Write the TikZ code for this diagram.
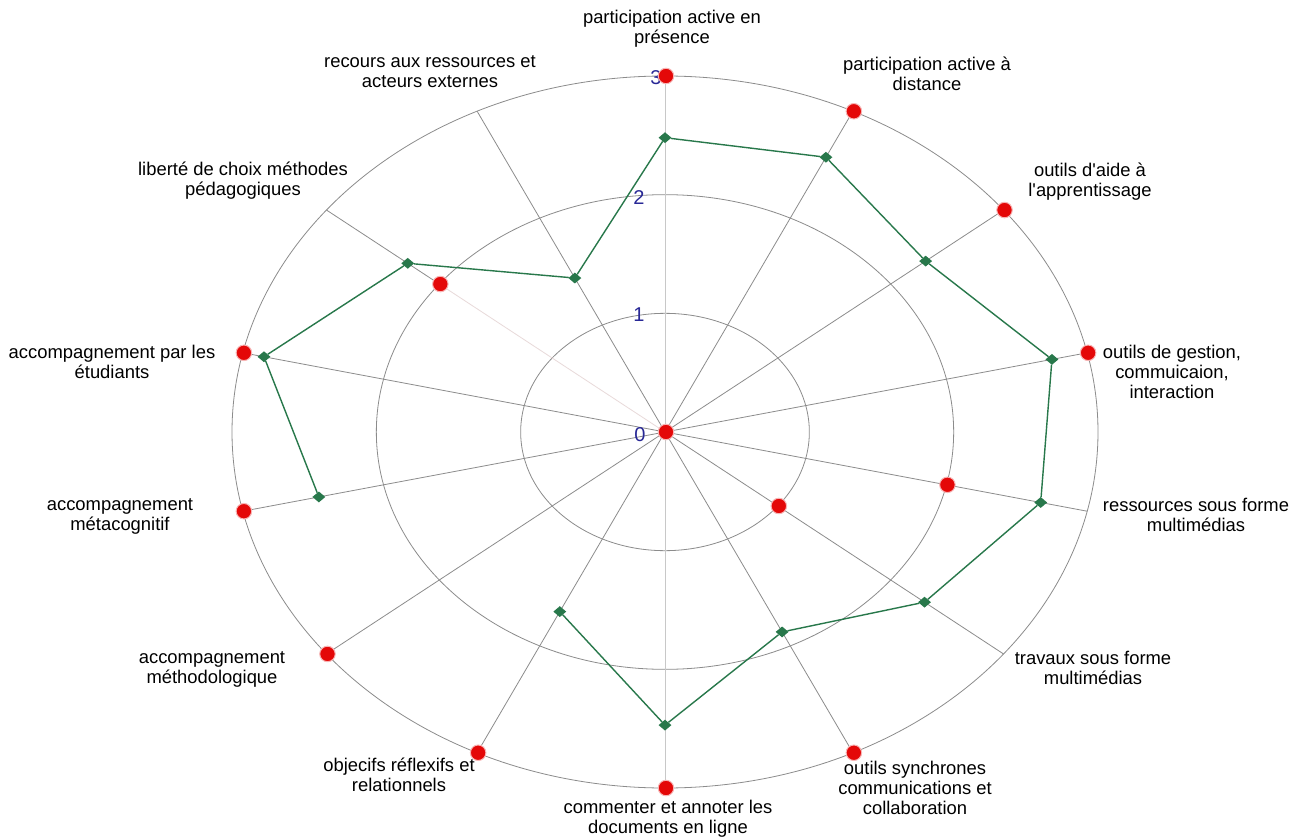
\documentclass[tikz,border=0pt]{standalone}
\usepackage{fontspec}
\setmainfont{Liberation Sans}
\newfontfamily\labfont{Liberation Sans}
\usetikzlibrary{shapes.geometric}
\definecolor{gridc}{RGB}{140,140,140}
\definecolor{gridl}{RGB}{200,200,200}
\definecolor{palec}{RGB}{232,218,218}
\definecolor{dgreen}{RGB}{40,120,75}
\definecolor{dred}{RGB}{228,8,8}
\definecolor{dblue}{RGB}{40,40,150}
\tikzset{
  gridline/.style={draw=gridc, line width=0.8pt},
  gridlight/.style={draw=gridl, line width=0.8pt},
  gdiam/.style={diamond, fill=dgreen, inner sep=0pt, minimum width=13pt, minimum height=11pt},
  gline/.style={draw=dgreen, line width=1.4pt},
  rdot/.style={circle, fill=dred, draw=dred!30, line width=1pt, inner sep=0pt, minimum size=15.5pt},
  lab/.style={font=\labfont\fontsize{18.4}{20}\selectfont, align=center, anchor=north, inner sep=0pt},
  tick/.style={font=\fontsize{20}{20}\selectfont, text=dblue, inner sep=0pt}
}
\begin{document}
\begin{tikzpicture}[x=1pt,y=-1pt]
\useasboundingbox (0,0) rectangle (1315,840);
\fill[white] (0,0) rectangle (1315,840);
\coordinate (C) at (665,432);
% outer axis ends
\foreach \k in {0,...,13} {
  \coordinate (o\k) at ({665+433*cos(90-\k*360/14)},{432-356*sin(90-\k*360/14)});
}
\coordinate (p12) at ({665+144.33*2*cos(90-12*360/14)},{432-118.67*2*sin(90-12*360/14)});
% rings
\foreach \s in {1,2,3} {
  \draw[gridline] (C) ellipse [x radius=\s*144.33pt, y radius=\s*118.67pt];
}
% spokes
\foreach \k in {1,2,3,4,5,6,8,9,10,11,13} {
  \draw[gridline] (C) -- (o\k);
}
\draw[gridlight] (o0) -- (o7);
\draw[draw=palec, line width=0.8pt] (C) -- (p12);
\draw[gridline] (p12) -- (o12);
% scale labels
\node[tick] (t0) at (640,435) {0};
\node[tick] (t1) at (639,315) {1};
\node[tick] (t2) at (639,198) {2};
\node[tick] (t3) at (656,78) {3};
% green series
\foreach \k/\v in {0/2.48,1/2.57,2/2.31,3/2.75,4/2.67,5/2.30,6/1.87,7/2.47,8/1.68,10/2.46,11/2.85,12/2.28,13/1.44} {
  \node[gdiam] (g\k) at ({665+144.33*\v*cos(90-\k*360/14)},{432-118.67*\v*sin(90-\k*360/14)}) {};
}
\draw[gline] (g10) -- (g11) -- (g12) -- (g13) -- (g0) -- (g1) -- (g2) -- (g3) -- (g4) -- (g5) -- (g6) -- (g7) -- (g8);
% red series
\foreach \k/\v in {0/3,1/3,2/3,3/3,4/2,5/1,6/3,7/3,8/3,9/3,10/3,11/3,12/2,13/0} {
  \node[rdot] (r\k) at ({666+144.33*\v*cos(90-\k*360/14)},{432-118.67*\v*sin(90-\k*360/14)}) {};
}
% axis labels
\node[lab] (l0) at (672,10) {participation active en\\présence};
\node[lab] (l1) at (927,57) {participation active à\\distance};
\node[lab] (l2) at (1090,163) {outils d'aide à\\l'apprentissage};
\node[lab] (l3) at (1172,345) {outils de gestion,\\commuicaion,\\interaction};
\node[lab] (l4) at (1196,498) {ressources sous forme\\multimédias};
\node[lab] (l5) at (1093,651) {travaux sous forme\\multimédias};
\node[lab] (l6) at (915,761) {outils synchrones\\communications et\\collaboration};
\node[lab] (l7) at (668,800) {commenter et annoter les\\documents en ligne};
\node[lab] (l8) at (399,758) {objecifs réflexifs et\\relationnels};
\node[lab] (l9) at (212,651) {accompagnement\\méthodologique};
\node[lab] (l10) at (120,498) {accompagnement\\métacognitif};
\node[lab] (l11) at (112,345) {accompagnement par les\\étudiants};
\node[lab] (l12) at (243,162) {liberté de choix méthodes\\pédagogiques};
\node[lab] (l13) at (430,55) {recours aux ressources et\\acteurs externes};
\end{tikzpicture}
\end{document}
